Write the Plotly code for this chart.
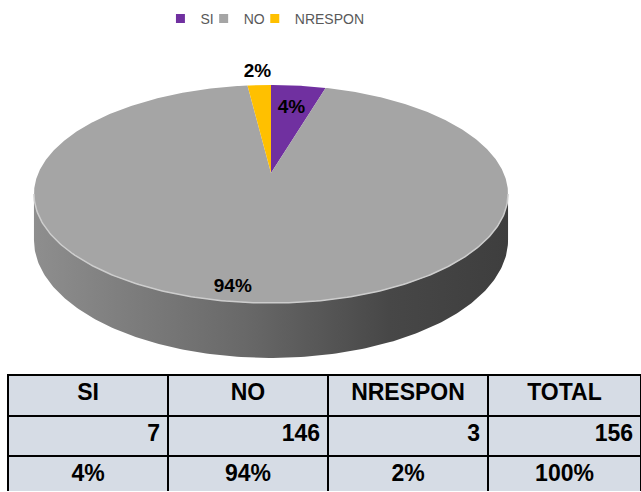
import numpy as np
import plotly.graph_objects as go

# ---- data ----
categories = ["SI", "NO", "NRESPON"]
counts = [7, 146, 3]
colors = ["#7030A0", "#A5A5A5", "#FFC000"]
table_headers = ["SI", "NO", "NRESPON", "TOTAL"]

total = sum(counts)
shares = [c / total for c in counts]
pct_labels = [f"{round(s * 100)}%" for s in shares]

# ---- 3D pie projection (pixel-space geometry) ----
W, H_FIG = 641, 492
cx, cy0 = 271.0, 173.0       # projected centre of the top face
A, B = 232.6, 105.0          # projected radii
e = 0.1927                   # perspective factor
depth = 44.4                 # wall thickness


def proj(t_deg, r=1.0, h=0.0):
    t = np.radians(t_deg)
    X = r * np.sin(t)
    Y = r * np.cos(t)
    d = 1 + e * Y
    return cx + A * X / d, cy0 - B * Y / d + depth * h / d


fig = go.Figure()

# slice angle ranges (clockwise from top)
bounds = np.concatenate([[0], np.cumsum(shares) * 360])
t_sil = np.degrees(np.arccos(-e))   # silhouette angles
vis0, vis1 = t_sil, 360 - t_sil

# side walls
for i, name in enumerate(categories):
    a0, a1 = bounds[i], bounds[i + 1]
    lo, hi = max(a0, vis0), min(a1, vis1)
    if hi <= lo:
        continue
    ts = np.linspace(lo, hi, 200)
    xt, yt = proj(ts)
    xb, yb = proj(ts[::-1], 1.0, 1.0)
    xs = np.concatenate([xt, xb, xt[:1]])
    ys = np.concatenate([yt, yb, yt[:1]])
    fig.add_trace(go.Scatter(
        x=xs, y=ys, mode="lines", fill="toself", line=dict(width=0),
        fillgradient=dict(type="horizontal",
                          colorscale=[[0, "#8e8e8e"], [0.45, "#686868"],
                                      [0.75, "#474747"], [1, "#3e3e3e"]]),
        showlegend=False, hoverinfo="skip"))

# top faces
for i, name in enumerate(categories):
    a0, a1 = bounds[i], bounds[i + 1]
    ts = np.linspace(a0, a1, max(int((a1 - a0) * 2), 10))
    xa, ya = proj(ts)
    xs = np.concatenate([[cx], xa, [cx]])
    ys = np.concatenate([[cy0], ya, [cy0]])
    fig.add_trace(go.Scatter(
        x=xs, y=ys, mode="lines", fill="toself", fillcolor=colors[i],
        line=dict(width=0), showlegend=False, name=name,
        hovertemplate=f"{name}: {counts[i]}<extra></extra>"))

# rim highlight on front edge
ts = np.linspace(vis0, vis1, 200)
xr, yr = proj(ts)
fig.add_trace(go.Scatter(x=xr, y=yr, mode="lines",
                         line=dict(color="#cdcdcd", width=1.5),
                         showlegend=False, hoverinfo="skip"))

# data labels
mids = (bounds[:-1] + bounds[1:]) / 2
label_radius = [0.71, 0.907, 1.18]
label_shift = [0.0, 4.0, 0.0]
lx, ly = [], []
for m, r, s in zip(mids, label_radius, label_shift):
    px, py = proj(m + s, r)
    lx.append(px)
    ly.append(py)
fig.add_trace(go.Scatter(
    x=lx, y=ly, mode="text", text=pct_labels,
    textfont=dict(family="Liberation Sans", size=19, color="black", weight="bold"),
    showlegend=False, hoverinfo="skip"))

# legend entries
for i, name in enumerate(categories):
    fig.add_trace(go.Scatter(
        x=[None], y=[None], mode="markers", name=name,
        marker=dict(symbol="square", size=9, color=colors[i],
                    line=dict(width=0))))

# table: header + counts (right aligned), then percentages (centered)
count_row = [[c] for c in counts] + [[total]]
pct_row = pct_labels + [f"{round(sum(shares) * 100)}%"]
tfont = dict(family="Liberation Sans", size=23, color="black", weight="bold")
tline = dict(color="black", width=1.5)
fill = "#D6DCE5"
colw = [160, 160, 160, 153]

fig.add_trace(go.Table(
    domain=dict(x=[8 / W, 1], y=[1 - 456 / H_FIG, 1 - 375 / H_FIG]),
    columnwidth=colw,
    header=dict(values=table_headers, fill_color=fill, line=tline,
                align="center", height=41, font=tfont),
    cells=dict(values=count_row, fill_color=fill, line=tline,
               align="right", height=40, font=tfont)))

fig.add_trace(go.Table(
    domain=dict(x=[8 / W, 1], y=[0, 1 - 456 / H_FIG]),
    columnwidth=colw,
    header=dict(values=pct_row, fill_color=fill, line=tline,
                align="center", height=40, font=tfont),
    cells=dict(values=[])))

fig.update_layout(
    width=W, height=H_FIG,
    margin=dict(l=0, r=0, t=0, b=0),
    paper_bgcolor="white", plot_bgcolor="white",
    xaxis=dict(range=[0, W], visible=False, fixedrange=True),
    yaxis=dict(range=[H_FIG, 0], visible=False, fixedrange=True),
    legend=dict(orientation="h", x=0.425, xanchor="center", y=1 - 19 / H_FIG,
                yanchor="middle", font=dict(family="Liberation Sans", size=14, color="#595959"),
                itemwidth=30, indentation=-15,
                bgcolor="rgba(0,0,0,0)"),
    showlegend=True,
)

fig.write_html("out.html", config={"displayModeBar": False},
               post_script="document.body.style.margin='0';document.body.style.overflow='hidden';")
